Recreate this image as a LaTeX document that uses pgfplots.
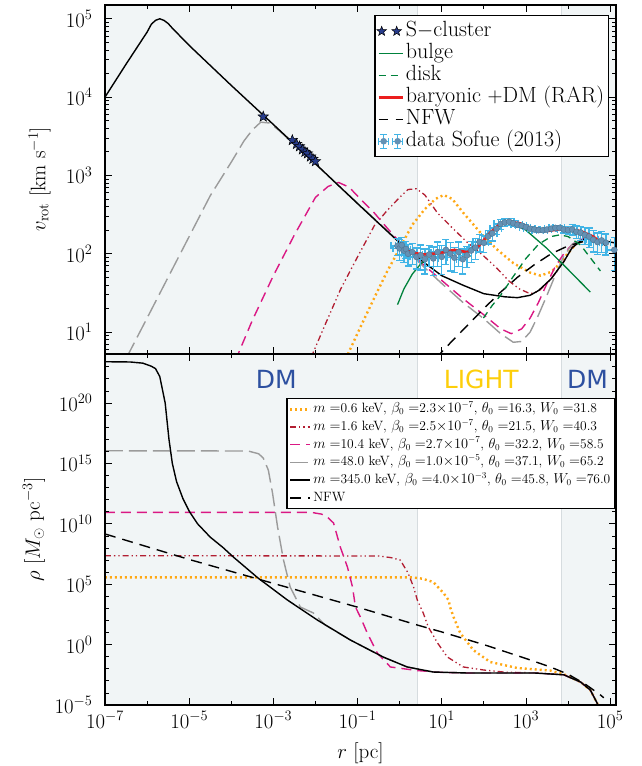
\documentclass[border=0pt]{standalone}
\usepackage{fontspec}
\newfontfamily\dejavu{DejaVu Sans}
\usepackage{pgfplots}
\pgfplotsset{compat=1.18}
\usepackage{pgfplotstable}

\definecolor{bgcol}{RGB}{241,245,246}
\definecolor{bound}{RGB}{214,220,223}
\definecolor{cOrange}{RGB}{255,168,20}
\definecolor{cDarkRed}{RGB}{178,30,50}
\definecolor{cMagenta}{RGB}{218,24,132}
\definecolor{cGray}{RGB}{155,155,155}
\definecolor{cGreen}{RGB}{0,130,60}
\definecolor{cRed}{RGB}{235,30,30}
\definecolor{cData}{RGB}{65,180,230}
\definecolor{cMark}{RGB}{100,145,180}
\definecolor{cStar}{RGB}{40,60,140}
\definecolor{cDM}{RGB}{45,80,160}
\definecolor{cLight}{RGB}{253,206,10}

\pgfdeclareplotmark{fstar}{%
  \pgfpathmoveto{\pgfpointpolar{90}{\pgfplotmarksize}}%
  \pgfpathlineto{\pgfpointpolar{126}{0.42\pgfplotmarksize}}%
  \pgfpathlineto{\pgfpointpolar{162}{\pgfplotmarksize}}%
  \pgfpathlineto{\pgfpointpolar{198}{0.42\pgfplotmarksize}}%
  \pgfpathlineto{\pgfpointpolar{234}{\pgfplotmarksize}}%
  \pgfpathlineto{\pgfpointpolar{270}{0.42\pgfplotmarksize}}%
  \pgfpathlineto{\pgfpointpolar{306}{\pgfplotmarksize}}%
  \pgfpathlineto{\pgfpointpolar{342}{0.42\pgfplotmarksize}}%
  \pgfpathlineto{\pgfpointpolar{18}{\pgfplotmarksize}}%
  \pgfpathlineto{\pgfpointpolar{54}{0.42\pgfplotmarksize}}%
  \pgfpathclose
  \pgfusepathqfillstroke}

\pgfplotsset{
  leglineA/.style={legend image code/.code={\draw[##1] (0pt,0pt) -- (24pt,0pt);}},
  leglineB/.style={legend image code/.code={\draw[##1] (0pt,0pt) -- (20pt,0pt);}},
  legstars/.style={legend image code/.code={%
     \draw[mark size=5pt, mark options={fill=cStar, draw=black, line width=0.5pt}]
       plot[only marks, mark=fstar] coordinates {(3pt,0pt) (18pt,0pt)};}},
  legdata/.style={legend image code/.code={%
     \foreach \xx in {5pt,19pt}{%
       \draw[cData, line width=1.3pt] (\xx-5pt,0pt) -- (\xx+5pt,0pt);
       \draw[cData, line width=1.3pt] (\xx,-7pt) -- (\xx,7pt);
       \draw[cData, line width=1.3pt] (\xx-3.5pt,-7pt) -- (\xx+3.5pt,-7pt);
       \draw[cData, line width=1.3pt] (\xx-3.5pt,7pt) -- (\xx+3.5pt,7pt);
       \draw[cData, line width=1.3pt] (\xx-5pt,-3.5pt) -- (\xx-5pt,3.5pt);
       \draw[cData, line width=1.3pt] (\xx+5pt,-3.5pt) -- (\xx+5pt,3.5pt);
       \fill[cMark] (\xx,0pt) circle (2.6pt);
     }}},
}

% ---------------- top panel: rotation curves ----------------
\pgfplotstableread{
x y
1e-7 1.0e4
3.16e-7 2.63e4
1e-6 6.76e4
1.26e-6 8.51e4
1.585e-6 9.55e4
2.0e-6 1.0e5
2.51e-6 9.55e4
3.16e-6 8.71e4
3.98e-6 7.59e4
1e-5 4.57e4
1e-4 1.41e4
1e-3 4.47e3
1e-2 1.41e3
0.1 437
1 138
3.16 83.2
10 52.5
31.6 39.8
100 30.9
316 28.2
631 27.5
1259 29.5
1995 33.9
3981 47.9
7943 79.4
12590 120
19950 145
31620 166
50120 155
79430 126
}\tvblack
\pgfplotstableread{
x y
3.16e-7 4.57
1e-6 15.1
3.16e-6 50.1
1e-5 166
3.16e-5 550
1e-4 1479
2.0e-4 2754
3.16e-4 3802
5.01e-4 4786
7.94e-4 4677
1.26e-3 3890
2.51e-3 2786
1e-2 1396
0.1 442
1 140
3.16 74.1
10 41.7
31.6 24.0
100 14.8
251 9.55
501 7.41
794 7.59
1259 10.0
1995 16.6
3162 29.5
5012 53.7
7943 93.3
12590 132
19950 151
31620 166
50120 155
79430 126
}\tvgray
\pgfplotstableread{
x y
1.26e-4 4.37
3.16e-4 14.1
1e-3 52.5
3.16e-3 174
1e-2 525
2.0e-2 724
3.55e-2 813
6.31e-2 708
0.126 479
0.251 331
0.501 214
1 141
3.16 77.6
10 45.7
31.6 26.9
100 16.6
251 11.0
447 9.55
794 11.0
1259 15.1
1995 24.0
3162 41.7
5012 69.2
7943 100
12590 132
19950 151
31620 166
50120 155
79430 126
}\tvmag
\pgfplotstableread{
x y
7.94e-3 4.79
1.78e-2 13.2
3.98e-2 35.5
0.1 91.2
0.251 229
0.501 355
1 525
1.585 661
2.51 676
3.98 562
7.94 331
17.8 214
39.8 141
100 93.3
200 66.1
398 44.7
708 35.5
1259 30.9
1995 33.1
3981 47.9
7943 79.4
12590 120
19950 145
31620 166
50120 155
79430 126
}\tvdred
\pgfplotstableread{
x y
5.25e-2 4.57
0.126 12.6
0.251 27.5
0.501 58.9
1 117
2.0 234
3.98 372
7.08 501
11.2 562
17.8 501
31.6 339
79.4 191
200 115
501 75.9
1259 57.5
2239 52.5
3981 58.9
6310 74.1
10000 102
15850 135
28180 158
50120 155
79430 126
}\tvorange
\pgfplotstableread{
x y
7.08 4.57
15.85 7.24
39.8 12.0
100 20.0
251 32.4
631 50.1
1585 72.4
3981 100
10000 126
25120 145
63100 148
125900 138
}\tvnfw
\pgfplotstableread{
x y
0.891 22.4
1.26 35.5
2.0 55.0
3.16 74.1
6.31 100
12.6 112
25.1 107
50.1 93.3
}\tvinner
\pgfplotstableread{
x y
223.9 219
316.2 245
446.7 251
631 224
1000 200
3162 117
10000 63.1
33880 32.4
}\tvbulge
\pgfplotstableread{
x y
97.7 15.1
158.5 21.9
251.2 29.5
501.2 51.3
1000 87.1
1995 132
3981 166
6310 174
10000 166
19950 129
31620 93.3
58880 60.3
}\tvdisk
\pgfplotstableread{
x y
1 126
1.778 105
3.548 97.7
8.913 102
19.95 112
39.81 105
70.79 120
141.3 186
251.2 245
398.1 257
707.9 245
1259 214
3162 195
7943 209
19950 195
39810 166
60260 138
}\tvrar
\pgfplotstableread{
x y ey
0.891 126 0.25
1.0 117 0.3
1.122 129 0.25
1.259 110 0.3
1.413 115 0.25
1.585 100 0.3
1.995 105 0.3
2.512 91.2 0.3
3.162 95.5 0.35
3.981 85.1 0.35
5.012 97.7 0.3
6.31 87.1 0.4
7.943 105 0.35
10 91.2 0.4
12.59 112 0.35
15.85 100 0.4
19.95 89.1 0.35
25.12 105 0.35
31.62 85.1 0.35
39.81 95.5 0.3
50.12 110 0.3
63.1 120 0.3
79.43 141 0.25
100 138 0.25
125.9 166 0.2
158.5 182 0.2
199.5 209 0.15
251.2 240 0.15
316.2 251 0.12
398.1 257 0.1
501.2 245 0.08
631 234 0.08
794.3 229 0.06
1000 219 0.06
1259 209 0.05
1585 204 0.05
1995 200 0.05
2512 200 0.05
3162 204 0.05
3981 209 0.06
5012 214 0.06
6310 214 0.08
7943 204 0.1
10000 200 0.12
12590 204 0.15
15850 191 0.18
19950 186 0.2
25120 174 0.25
31620 166 0.28
39810 151 0.3
50120 141 0.3
63100 148 0.3
79430 138 0.3
125900 112 0.45
}\tvdata
\pgfplotstableread{
x y
5.75e-4 5623
2.82e-3 2818
3.55e-3 2512
4.17e-3 2344
4.90e-3 2138
5.62e-3 1995
6.46e-3 1905
7.59e-3 1738
8.71e-3 1622
1.0e-2 1514
}\tvstars

% ---------------- bottom panel: densities ----------------
\pgfplotstableread{
x y
1e-7 2.63e23
3.98e-7 2.51e23
7.94e-7 2.0e23
1.26e-6 1.12e23
1.585e-6 7.08e22
2.0e-6 1.58e22
2.29e-6 1.58e21
2.69e-6 1.0e20
3.31e-6 1.0e17
3.98e-6 1.0e15
5.01e-6 3.16e13
7.08e-6 1.26e12
1e-5 1.12e11
1.585e-5 1e10
3.16e-5 7.94e8
6.31e-5 1.12e8
1.12e-4 1.78e7
4.37e-4 3.16e5
2.14e-3 5.01e3
1.1e-2 110
6.76e-2 2.4
0.407 9.33e-2
1.51 1.41e-2
6.31 5.37e-3
39.8 4.47e-3
1585 4.47e-3
7943 3.16e-3
19950 7.94e-4
33880 1.74e-4
48980 1.48e-5
54950 5.01e-6
}\trblack
\pgfplotstableread{
x y
1e-7 1.12e16
2.51e-4 1.07e16
4.47e-4 6.31e15
5.75e-4 2.82e15
7.59e-4 2.82e14
9.55e-4 3.55e12
1.26e-3 5.37e9
1.74e-3 1e7
2.51e-3 5.89e4
4.37e-3 1288
8.91e-3 417
1.7e-2 41.7
6.76e-2 2.4
0.407 9.33e-2
1.51 1.41e-2
6.31 5.37e-3
39.8 4.47e-3
1585 4.47e-3
7943 3.16e-3
19950 7.94e-4
33880 1.74e-4
48980 1.48e-5
54950 5.01e-6
}\trgray
\pgfplotstableread{
x y
1e-7 8.91e10
7.94e-3 8.91e10
1.41e-2 6.31e10
1.91e-2 3.63e10
2.69e-2 1.17e10
3.89e-2 1.2e8
5.75e-2 2.63e6
7.59e-2 5.89e4
8.91e-2 1288
0.117 191
0.17 9.12
0.295 0.2
0.603 1.41e-2
2.63 7.08e-3
10 5.01e-3
39.8 4.47e-3
1585 4.47e-3
7943 3.16e-3
19950 7.94e-4
33880 1.74e-4
48980 1.48e-5
54950 5.01e-6
}\trmag
\pgfplotstableread{
x y
1e-7 2.29e7
0.316 2.19e7
0.631 1.58e7
1.035 1e7
1.585 8.51e5
2.14 5.89e4
2.63 4898
3.63 417
4.79 28.8
7.94 1.38
13.5 9.55e-2
32.4 1.41e-2
97.7 7.94e-3
316 5.25e-3
1585 4.6e-3
7943 3.16e-3
19950 7.94e-4
33880 1.74e-4
48980 1.48e-5
54950 5.01e-6
}\trdred
\pgfplotstableread{
x y
1e-7 3.72e5
2.0 3.72e5
3.55 2.82e5
6.31 1.51e5
11.0 1.86e4
14.5 4898
15.8 1288
19.1 191
27.5 9.12
56.2 0.355
141 3.63e-2
631 1.15e-2
3802 7.08e-3
7943 3.55e-3
19950 7.94e-4
33880 1.74e-4
48980 1.48e-5
54950 5.01e-6
}\trorange
\pgfplotstableread{
x y
1e-7 1.45e9
1e-5 1.12e7
1e-3 1.17e5
0.1 1259
2.63 41.7
10 11.2
100 1.0
1000 7.08e-2
3802 1.41e-2
1e4 3.55e-3
25120 5.62e-4
58880 6.76e-5
70790 3.98e-5
}\trnfw

\begin{document}
\begin{tikzpicture}
\useasboundingbox (-105pt,-61pt) rectangle (536pt,705pt);

% ================= bottom panel =================
\begin{axis}[xmode=log, ymode=log, scale only axis, width=511pt, height=351pt,
  at={(0pt,0pt)}, anchor=south west,
  xmin=1e-7, xmax=1.38e5,
  ymin=1e-5, ymax=1.15e24,
  tick align=inside, major tick length=7pt, minor tick length=4pt,
  tick style={black, line width=0.8pt},
  axis line style={line width=1.2pt},
  tick label style={font=\fontsize{21}{25}\selectfont},
  label style={font=\fontsize{21}{25}\selectfont},
  xticklabel style={yshift=-3pt},
  yticklabel style={xshift=-9pt},
  xtick={1e-7,1e-5,1e-3,1e-1,1e1,1e3,1e5},
  minor xtick={1e-6,1e-4,1e-2,1,1e2,1e4},
  axis on top,
  ytick={1e-5,1,1e5,1e10,1e15,1e20},
  minor ytick={1e-4,1e-3,1e-2,1e-1,1e1,1e2,1e3,1e4,1e6,1e7,1e8,1e9,1e11,1e12,1e13,1e14,1e16,1e17,1e18,1e19,1e21,1e22,1e23,1e24},
  xlabel={$r$ [pc]},
  ylabel={$\rho$ [$M_\odot$ pc$^{-3}$]},
  xlabel style={at={(axis description cs:0.5,-0.138)}, anchor=center},
  ylabel style={at={(axis description cs:-0.139,0.5)}, anchor=center},
  leglineB,
  legend style={at={(rel axis cs:0.998,0.875)}, anchor=north east, draw=black, line width=1.3pt, fill=white,
    font=\fontsize{13.5}{16}\selectfont, inner sep=2pt, row sep=0pt,
    nodes={inner ysep=1.6pt, text height=10.5pt, text depth=4pt}},
  legend cell align=left,
]
\fill[bgcol] (axis cs:1e-8,1e-7) rectangle (axis cs:2.6,1e26);
\fill[bgcol] (axis cs:6.9e3,1e-7) rectangle (axis cs:1e6,1e26);
\draw[bound, line width=1.2pt] (axis cs:2.6,1e-7) -- (axis cs:2.6,1e26);
\draw[bound, line width=1.2pt] (axis cs:6.9e3,1e-7) -- (axis cs:6.9e3,1e26);

\addplot[cOrange, line width=2.4pt, dash pattern=on 2pt off 3pt] table {\trorange};
\addlegendentry{$m=$0.6 keV, $\beta_0=$2.3$\times10^{-7}$, $\theta_0=$16.3, $W_0=$31.8}
\addplot[cDarkRed, line width=1.3pt, dash pattern=on 6pt off 3pt on 1.3pt off 3pt on 1.3pt off 3pt] table {\trdred};
\addlegendentry{$m=$1.6 keV, $\beta_0=$2.5$\times10^{-7}$, $\theta_0=$21.5, $W_0=$40.3}
\addplot[cMagenta, line width=1.4pt, dash pattern=on 10pt off 6pt] table {\trmag};
\addlegendentry{$m=$10.4 keV, $\beta_0=$2.7$\times10^{-7}$, $\theta_0=$32.2, $W_0=$58.5}
\addplot[cGray, line width=1.4pt, dash pattern=on 18pt off 6pt] table {\trgray};
\addlegendentry{$m=$48.0 keV, $\beta_0=$1.0$\times10^{-5}$, $\theta_0=$37.1, $W_0=$65.2}
\addplot[black, line width=1.4pt] table {\trblack};
\addlegendentry{$m=$345.0 keV, $\beta_0=$4.0$\times10^{-3}$, $\theta_0=$45.8, $W_0=$76.0}
\addplot[black, line width=1.4pt, dash pattern=on 11pt off 7pt] table {\trnfw};
\addlegendentry{NFW}

\node[font=\dejavu\fontsize{25}{30}\selectfont, text=cDM] at (axis cs:1.17e-3,9e21) {DM};
\node[font=\dejavu\fontsize{25}{30}\selectfont, text=cLight] at (axis cs:87,9e21) {LIGHT};
\node[font=\dejavu\fontsize{25}{30}\selectfont, text=cDM] at (axis cs:2.9e4,9e21) {DM};
\end{axis}

% ================= top panel =================
\begin{axis}[xmode=log, ymode=log, scale only axis, width=511pt, height=349pt,
  at={(0pt,351pt)}, anchor=south west,
  xmin=1e-7, xmax=1.38e5,
  ymin=5.25, ymax=1.5e5,
  tick align=inside, major tick length=7pt, minor tick length=4pt,
  tick style={black, line width=0.8pt},
  axis line style={line width=1.2pt},
  tick label style={font=\fontsize{21}{25}\selectfont},
  label style={font=\fontsize{21}{25}\selectfont},
  yticklabel style={xshift=-9pt},
  xtick={1e-7,1e-5,1e-3,1e-1,1e1,1e3,1e5},
  minor xtick={1e-6,1e-4,1e-2,1,1e2,1e4},
  axis on top,
  xticklabels={},
  ylabel={$v_{\mathrm{rot}}$ [km s$^{-1}$]},
  ylabel style={at={(axis description cs:-0.128,0.5)}, anchor=center},
  leglineA,
  legend style={at={(rel axis cs:0.986,0.971)}, anchor=north east, draw=black, line width=1.3pt, fill=white,
    font=\fontsize{22}{26}\selectfont, inner xsep=2pt, inner ysep=4.5pt, row sep=0pt,
    nodes={inner ysep=0pt, text height=16pt, text depth=6pt}},
  legend cell align=left,
]
\fill[bgcol] (axis cs:1e-8,1) rectangle (axis cs:2.6,1e6);
\fill[bgcol] (axis cs:6.9e3,1) rectangle (axis cs:1e6,1e6);
\draw[bound, line width=1.2pt] (axis cs:2.6,1) -- (axis cs:2.6,1e6);
\draw[bound, line width=1.2pt] (axis cs:6.9e3,1) -- (axis cs:6.9e3,1e6);

\addlegendimage{legstars}
\addlegendentry{S$-$cluster}
\addlegendimage{cGreen, line width=1.3pt}
\addlegendentry{bulge}
\addlegendimage{cGreen, line width=1.3pt, dash pattern=on 7pt off 5pt}
\addlegendentry{disk}
\addlegendimage{cRed, line width=2.6pt}
\addlegendentry{baryonic $+$DM (RAR)}
\addlegendimage{black, line width=1.3pt, dash pattern=on 9pt off 8pt}
\addlegendentry{NFW}
\addlegendimage{legdata}
\addlegendentry{data Sofue (2013)}

\addplot[forget plot, cOrange, line width=2.4pt, dash pattern=on 2pt off 3pt] table {\tvorange};
\addplot[forget plot, cDarkRed, line width=1.3pt, dash pattern=on 6pt off 3pt on 1.3pt off 3pt on 1.3pt off 3pt] table {\tvdred};
\addplot[forget plot, cMagenta, line width=1.4pt, dash pattern=on 10pt off 6pt] table {\tvmag};
\addplot[forget plot, cGray, line width=1.4pt, dash pattern=on 18pt off 6pt] table {\tvgray};
\addplot[forget plot, black, line width=1.4pt] table {\tvblack};
\addplot[forget plot, black, line width=1.4pt, dash pattern=on 11pt off 7pt] table {\tvnfw};
\addplot[forget plot, cGreen, line width=1.3pt] table {\tvinner};
\addplot[forget plot, cGreen, line width=1.3pt] table {\tvbulge};
\addplot[forget plot, cGreen, line width=1.3pt, dash pattern=on 7pt off 5pt] table {\tvdisk};
\addplot[forget plot, only marks, mark=*, mark size=3pt,
  mark options={fill=cMark, draw=cMark!80!black, line width=0.4pt},
  error bars/.cd, y dir=both, y explicit relative, x dir=both, x fixed relative=0.3,
  error bar style={cData, line width=1.3pt},
  error mark options={rotate=90, cData, mark size=3.5pt, line width=1.3pt}]
  table[x=x, y=y, y error=ey] {\tvdata};
\addplot[forget plot, cRed, line width=2.6pt] table {\tvrar};
\addplot[forget plot, only marks, mark=fstar, mark size=5.5pt,
  mark options={fill=cStar, draw=black, line width=0.5pt}] table {\tvstars};
\end{axis}
\end{tikzpicture}
\end{document}
